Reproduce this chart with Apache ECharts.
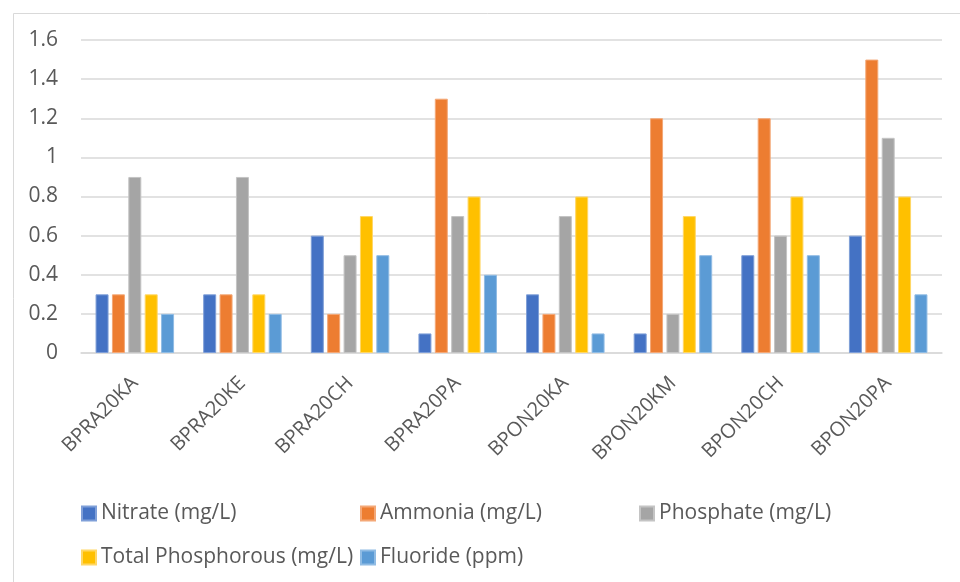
<!DOCTYPE html>
<html>
<head>
<meta charset="utf-8">
<script src="https://cdn.jsdelivr.net/npm/echarts@6/dist/echarts.min.js"></script>
<style>html,body{margin:0;padding:0;background:#fff;}#c{width:960px;height:582px;}</style>
</head>
<body>
<div id="c"></div>
<script>
const categories = ['BPRA20KA','BPRA20KE','BPRA20CH','BPRA20PA','BPON20KA','BPON20KM','BPON20CH','BPON20PA'];
const seriesNames = ['Nitrate (mg/L)','Ammonia (mg/L)','Phosphate (mg/L)','Total Phosphorous (mg/L)','Fluoride (ppm)'];
const nitrate = [0.3,0.3,0.6,0.1,0.3,0.1,0.5,0.6];
const ammonia = [0.3,0.3,0.2,1.3,0.2,1.2,1.2,1.5];
const phosphate = [0.9,0.9,0.5,0.7,0.7,0.2,0.6,1.1];
const totalPhosphorous = [0.3,0.3,0.7,0.8,0.8,0.7,0.8,0.8];
const fluoride = [0.2,0.2,0.5,0.4,0.1,0.5,0.5,0.3];
const values = [nitrate, ammonia, phosphate, totalPhosphorous, fluoride];
const colors = ['#4472C4','#ED7D31','#A5A5A5','#FFC000','#5B9BD5'];
const borders = ['#7f9fd8','#f4a877','#c4c4c4','#ffd766','#90bce4'];

const font = '"Open Sans", Lato, sans-serif';
const txt = '#595959';
const legendPos = [[81,503],[360,503],[639,503],[81,547],[360,547]];

const chart = echarts.init(document.getElementById('c'));
chart.setOption({
  animation: false,
  color: colors,
  graphic: [{
    type: 'rect', left: 11, top: 11, silent: true,
    shape: {width: 1200, height: 1200},
    style: {fill: 'none', stroke: '#d9d9d9', lineWidth: 1}
  }],
  legend: seriesNames.map((n, i) => ({
    data: [n], left: legendPos[i][0], top: legendPos[i][1], padding: 0,
    itemWidth: 14, itemHeight: 14, icon: 'rect', itemGap: 6,
    textStyle: {fontFamily: font, fontSize: 21, color: txt}
  })),
  grid: {left: 81, right: 18, top: 40, bottom: 229, containLabel: false},
  xAxis: {
    type: 'category', data: categories,
    axisLine: {lineStyle: {color: '#d9d9d9', width: 1.5}},
    axisTick: {show: false},
    axisLabel: {rotate: 45, margin: 27, interval: 0, fontFamily: font, fontSize: 20, color: txt}
  },
  yAxis: {
    type: 'value', min: 0, max: 1.6, interval: 0.2,
    axisLine: {show: false}, axisTick: {show: false},
    splitLine: {lineStyle: {color: '#d9d9d9', width: 1.5}},
    axisLabel: {margin: 23, fontFamily: font, fontSize: 21, color: txt,
      formatter: v => String(Math.round(v * 10) / 10)}
  },
  series: seriesNames.map((n, i) => ({
    name: n, type: 'bar', data: values[i],
    barWidth: 13, barGap: '26%',
    itemStyle: {color: colors[i], borderColor: borders[i], borderWidth: 1}
  }))
});
</script>
</body>
</html>
